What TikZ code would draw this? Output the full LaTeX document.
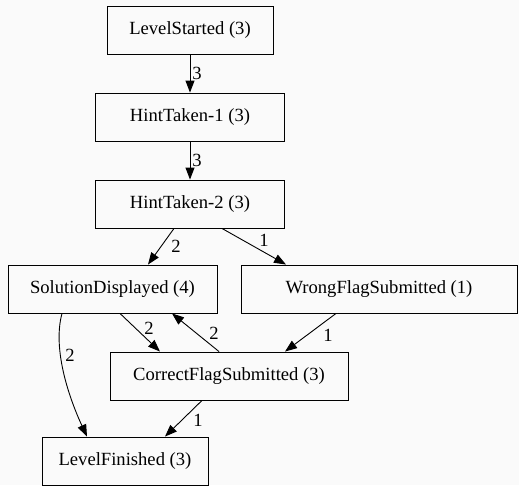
\documentclass[tikz,border=0pt]{standalone}
\usepackage{fontspec}
\setmainfont{Liberation Serif}
\usetikzlibrary{arrows.meta}
\begin{document}
\begin{tikzpicture}[x=1pt,y=-1pt,
  box/.style={draw,line width=0.9pt,minimum height=48pt,inner sep=0pt,font=\fontsize{18.6}{20}\selectfont},
  edge/.style={line width=0.9pt,-{Triangle[length=12pt,width=9pt]}},
  lab/.style={font=\fontsize{18.6}{20}\selectfont,inner sep=0pt}]
\fill[black!2] (0,0) rectangle (519,485);
\useasboundingbox (0,0) rectangle (519,485);
\node[box,minimum width=166pt] (ls) at (190,30) {LevelStarted (3)};
\node[box,minimum width=189pt] (h1) at (190,117) {HintTaken-1 (3)};
\node[box,minimum width=189pt] (h2) at (190,204) {HintTaken-2 (3)};
\node[box,minimum width=209pt] (sol) at (112.5,289) {SolutionDisplayed (4)};
\node[box,minimum width=276pt] (wr) at (379,289) {WrongFlagSubmitted (1)};
\node[box,minimum width=238pt] (cor) at (229,376) {CorrectFlagSubmitted (3)};
\node[box,minimum width=166pt] (fin) at (125,461) {LevelFinished (3)};
\draw[edge] (ls) -- (h1);
\draw[edge] (h1) -- (h2);
\draw[edge] ([xshift=-16pt]h2.south) -- ([xshift=35.5pt]sol.north);
\draw[edge] ([xshift=32pt]h2.south) -- ([xshift=-93pt]wr.north);
\draw[edge] ([xshift=7.5pt]sol.south) -- ([xshift=-69pt]cor.north);
\draw[edge] ([xshift=-10pt]cor.north) -- ([xshift=59.5pt]sol.south);
\draw[edge] ([xshift=-43pt]wr.south) -- ([xshift=56pt]cor.north);
\draw[edge] ([xshift=-50.5pt]sol.south) .. controls (52,350) and (70,400) .. ([xshift=-38pt]fin.north);
\draw[edge] ([xshift=-27pt]cor.south) -- ([xshift=40pt]fin.north);
\node[lab] (l1) at (197,73) {3};
\node[lab] (l2) at (197,160) {3};
\node[lab] (l3) at (176,246) {2};
\node[lab] (l4) at (264,240) {1};
\node[lab] (l5) at (149,328) {2};
\node[lab] (l6) at (214,333) {2};
\node[lab] (l7) at (328,335) {1};
\node[lab] (l8) at (70,355) {2};
\node[lab] (l9) at (198,420) {1};
\end{tikzpicture}
\end{document}
